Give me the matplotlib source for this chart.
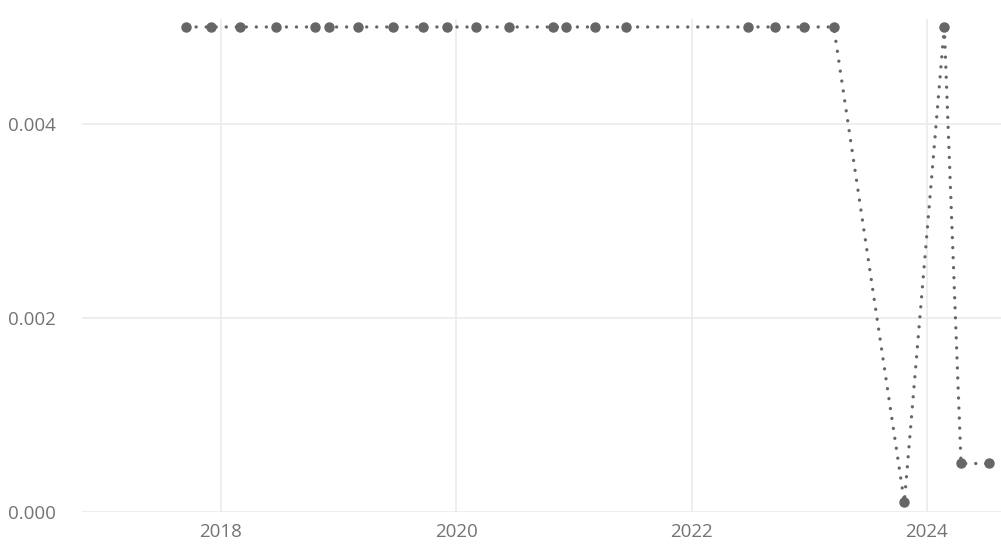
import numpy as np
import pandas as pd
from matplotlib import pyplot as plt
import matplotlib.dates as mdates

dates = pd.to_datetime([
    '2017-09-15', '2017-12-01', '2018-03-01', '2018-06-20', '2018-10-20',
    '2018-12-03', '2019-03-03', '2019-06-20', '2019-09-20', '2019-12-03',
    '2020-03-03', '2020-06-13', '2020-10-27', '2020-12-06', '2021-03-08',
    '2021-06-10', '2022-06-25', '2022-09-16', '2022-12-16', '2023-03-18',
    '2023-10-23', '2024-02-24', '2024-04-16', '2024-07-13',
])
values = [0.005] * 20 + [0.0001, 0.005, 0.0005, 0.0005]

plt.rcParams['font.family'] = ['Open Sans', 'DejaVu Sans']

fig = plt.figure(figsize=(10.01, 5.48), dpi=100)
ax = fig.add_axes([82 / 1001, 1 - 512 / 548, 1 - 82 / 1001, (512 - 19) / 548])

ax.plot(dates, values, linestyle=(0, (0.01, 3.0)), dash_capstyle='round',
        color='#666666', linewidth=2.4,
        marker='o', markersize=6.5, zorder=3)

ax.set_xlim(pd.Timestamp('2016-10-27'), pd.Timestamp('2024-08-18'))
ax.set_ylim(0, 0.005082)
ax.set_yticks([0.0, 0.002, 0.004])
ax.yaxis.set_major_formatter(plt.FuncFormatter(lambda v, p: f'{v:.3f}'))
ax.xaxis.set_major_locator(mdates.YearLocator(2))
ax.xaxis.set_major_formatter(mdates.DateFormatter('%Y'))

ax.grid(True, color='#ebebeb', linewidth=1.2)
ax.set_axisbelow(True)
for s in ax.spines.values():
    s.set_visible(False)
ax.tick_params(length=0, labelsize=13.5, colors='#737373')
ax.tick_params(axis='y', pad=19)
ax.tick_params(axis='x', pad=8)

fig.savefig('out.png', dpi=100)
